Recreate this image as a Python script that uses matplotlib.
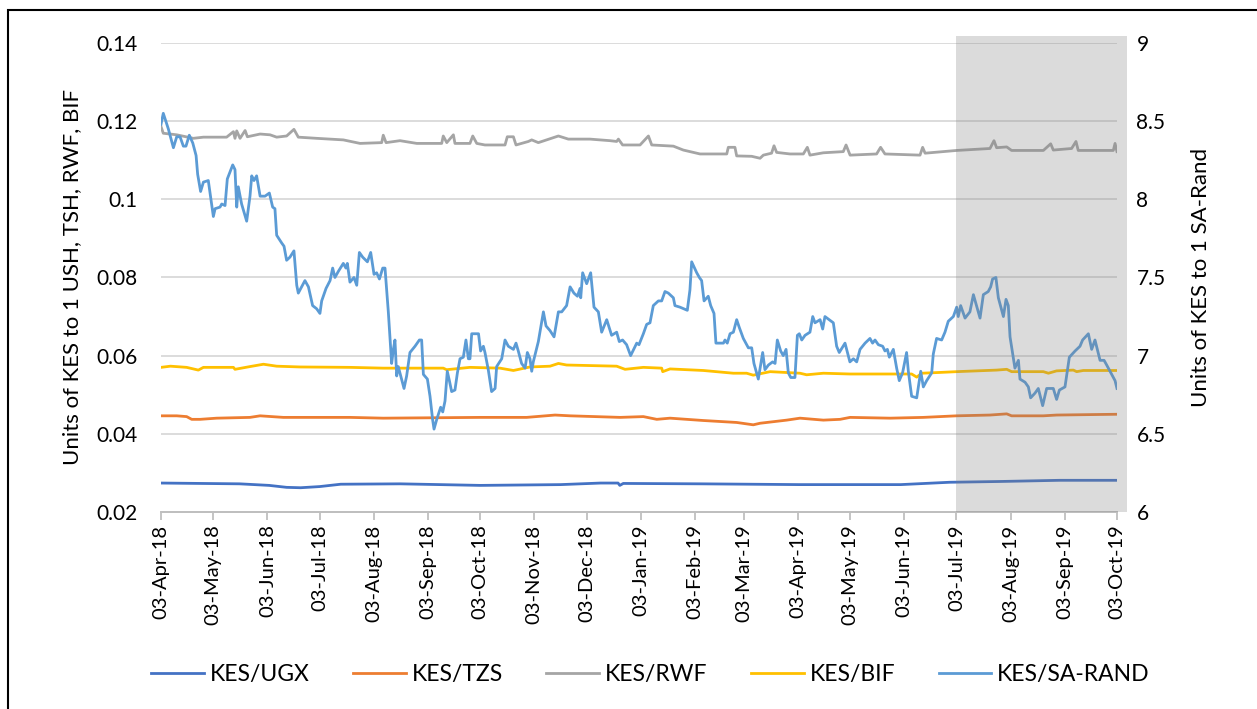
import pandas as pd
import numpy as np
import matplotlib
matplotlib.use("Agg")
import matplotlib.pyplot as plt
import matplotlib.dates as mdates
from matplotlib.patches import Rectangle

plt.rcParams['font.family'] = ['Lato', 'DejaVu Sans']

start = pd.Timestamp("2018-04-03")

# KES/SA-RAND (right axis): (days since 03-Apr-18, value)
rand_pts = [
    (0, 8.48), (1.3, 8.55), (4.2, 8.45), (7.1, 8.33), (9.0, 8.40), (10.9, 8.40), (12.8, 8.34),
    (14.3, 8.34), (16.2, 8.41), (18.2, 8.36), (20.1, 8.28), (21.0, 8.16), (22.7, 8.05),
    (24.3, 8.11), (27.1, 8.12), (30.0, 7.89), (31.0, 7.94), (33.8, 7.95), (34.8, 7.97),
    (36.7, 7.96), (38.0, 8.13), (41.1, 8.22), (42.4, 8.19), (43.4, 7.95), (44.3, 8.08),
    (46.2, 7.97), (49.1, 7.86), (51.0, 8.02), (52.0, 8.15), (53.3, 8.12), (54.8, 8.15),
    (56.8, 8.02), (59.6, 8.02), (62.1, 8.04), (64.0, 7.95), (65.3, 7.94), (66.3, 7.77),
    (69.2, 7.72), (70.5, 7.70), (72.0, 7.61), (73.9, 7.63), (76.2, 7.67), (77.8, 7.45),
    (78.7, 7.40), (80.6, 7.44), (82.5, 7.48), (84.5, 7.44), (86.9, 7.32), (89.2, 7.30),
    (91.1, 7.27), (92.1, 7.35), (94.6, 7.43), (96.9, 7.48), (98.4, 7.56), (99.7, 7.50),
    (101.7, 7.54), (104.5, 7.59), (106.0, 7.56), (106.8, 7.59), (108.3, 7.47), (110.6, 7.50),
    (112.2, 7.45), (113.7, 7.66), (115.6, 7.63), (118.3, 7.60), (120.2, 7.66), (122.1, 7.52),
    (123.6, 7.53), (125.2, 7.49), (127.1, 7.56), (128.4, 7.56), (130.3, 7.28), (132.2, 6.95),
    (133.2, 7.04), (134.1, 7.10), (135.1, 6.87), (136.0, 6.93), (137.4, 6.87), (139.3, 6.79),
    (140.8, 6.87), (142.7, 7.02), (145.6, 7.06), (148.1, 7.10), (149.4, 7.10), (150.4, 6.88),
    (152.7, 6.85), (154.2, 6.74), (155.7, 6.59), (156.5, 6.53), (158.0, 6.59), (160.3, 6.67),
    (161.5, 6.64), (162.8, 6.71), (164.1, 6.90), (165.3, 6.84), (166.6, 6.77), (168.5, 6.78),
    (169.9, 6.89), (171.4, 6.98), (173.3, 6.99), (174.8, 7.10), (176.2, 6.98), (177.1, 6.98),
    (178.1, 7.14), (182.0, 7.14), (183.2, 7.03), (184.8, 7.06), (185.7, 7.02), (187.6, 6.91),
    (189.5, 6.77), (191.5, 6.79), (192.4, 6.93), (195.3, 6.98), (197.2, 7.10), (199.1, 7.06),
    (202.0, 7.04), (203.5, 7.08), (204.8, 7.03), (206.7, 6.95), (208.7, 6.92), (210.0, 7.02),
    (211.5, 6.98), (212.5, 6.90), (213.4, 6.96), (216.3, 7.09), (219.2, 7.28), (220.7, 7.19),
    (223.0, 7.16), (225.3, 7.12), (227.8, 7.28), (229.7, 7.28), (232.5, 7.32), (234.5, 7.44),
    (236.7, 7.40), (238.7, 7.38), (240.2, 7.43), (240.6, 7.37), (241.7, 7.53), (244.0, 7.46),
    (246.3, 7.53), (248.2, 7.31), (250.7, 7.28), (252.6, 7.15), (255.5, 7.23), (258.3, 7.13),
    (261.2, 7.15), (262.7, 7.09), (264.6, 7.10), (266.9, 7.07), (269.2, 7.00), (272.7, 7.08),
    (274.0, 7.07), (276.5, 7.14), (278.4, 7.20), (280.3, 7.21), (282.2, 7.32), (285.1, 7.35),
    (287.0, 7.35), (288.9, 7.41), (290.8, 7.40), (293.7, 7.37), (294.6, 7.32), (297.5, 7.31),
    (301.7, 7.29), (303.2, 7.42), (304.2, 7.60), (307.1, 7.53), (308.6, 7.50), (309.9, 7.48),
    (311.3, 7.35), (313.7, 7.38), (315.1, 7.32), (317.0, 7.27), (318.1, 7.08), (322.4, 7.08),
    (323.3, 7.10), (324.6, 7.08), (326.2, 7.14), (328.1, 7.15), (330.0, 7.23), (331.5, 7.18),
    (333.8, 7.11), (336.7, 7.05), (338.6, 7.05), (339.9, 6.95), (342.4, 6.85), (344.9, 7.02),
    (346.2, 6.91), (348.2, 6.94), (350.6, 6.96), (352.0, 6.95), (353.3, 7.10), (355.2, 7.03),
    (356.7, 7.00), (358.3, 7.04), (359.6, 6.89), (361.0, 6.86), (363.4, 6.86), (364.8, 7.13),
    (365.9, 7.14), (367.3, 7.10), (369.2, 7.13), (372.0, 7.15), (373.6, 7.25), (374.9, 7.21),
    (377.8, 7.23), (379.3, 7.17), (380.6, 7.25), (385.4, 7.21), (387.3, 7.06), (388.8, 7.02),
    (392.1, 7.08), (394.9, 6.96), (396.9, 6.98), (398.8, 6.96), (400.7, 7.04), (403.6, 7.08),
    (406.4, 7.11), (407.9, 7.08), (409.3, 7.10), (411.2, 7.07), (413.7, 7.06), (415.0, 7.03),
    (416.4, 7.04), (417.5, 6.99), (419.8, 7.04), (421.7, 6.92), (423.2, 6.84), (425.1, 6.89),
    (427.4, 7.02), (428.4, 6.90), (430.3, 6.74), (433.2, 6.73), (435.5, 6.90), (437.0, 6.80),
    (438.9, 6.84), (441.8, 6.89), (442.7, 7.01), (444.6, 7.11), (447.5, 7.10), (449.4, 7.15),
    (451.3, 7.22), (454.2, 7.25), (456.1, 7.31), (457.0, 7.25), (458.4, 7.32), (460.9, 7.24),
    (463.7, 7.28), (465.7, 7.39), (469.5, 7.24), (471.4, 7.39), (474.2, 7.41), (475.6, 7.44),
    (476.7, 7.49), (478.6, 7.50), (480.0, 7.37), (482.9, 7.25), (484.4, 7.36), (485.7, 7.32),
    (486.7, 7.12), (489.5, 6.92), (491.5, 6.97), (492.4, 6.85), (495.3, 6.83), (497.2, 6.80),
    (498.5, 6.73), (501.0, 6.76), (502.9, 6.79), (505.4, 6.68), (507.7, 6.79), (511.5, 6.79),
    (513.4, 6.72), (515.0, 6.78), (518.2, 6.80), (520.7, 6.99), (524.0, 7.03), (526.8, 7.06),
    (528.3, 7.10), (531.6, 7.14), (533.5, 7.04), (535.4, 7.10), (538.3, 6.97), (540.6, 6.97),
    (542.1, 6.94), (544.0, 6.90), (546.9, 6.84), (548.0, 6.79),
]

# KES/RWF (left axis)
rwf_pts = [
    (0, 0.1186), (1.3, 0.1169), (9.0, 0.1165), (18.5, 0.1156), (24.3, 0.1159), (37.6, 0.1159),
    (41.5, 0.1173), (42.4, 0.1156), (43.4, 0.1175), (45.3, 0.1156), (48.2, 0.1176),
    (49.5, 0.1160), (56.8, 0.1167), (62.5, 0.1165), (66.3, 0.1159), (72.0, 0.1162),
    (76.2, 0.1179), (78.7, 0.1159), (89.2, 0.1156), (104.5, 0.1152), (114.1, 0.1143),
    (126.5, 0.1145), (127.4, 0.1164), (129.0, 0.1145), (137.0, 0.1150), (146.6, 0.1143),
    (160.9, 0.1143), (161.8, 0.1162), (163.8, 0.1145), (167.6, 0.1165), (168.5, 0.1143),
    (177.1, 0.1143), (178.7, 0.1162), (181.0, 0.1143), (185.7, 0.1139), (197.2, 0.1139),
    (198.5, 0.1160), (202.0, 0.1160), (203.5, 0.1139), (210.6, 0.1148), (212.5, 0.1152),
    (216.3, 0.1145), (227.8, 0.1162), (233.5, 0.1154), (245.9, 0.1154), (257.4, 0.1150),
    (261.2, 0.1148), (262.2, 0.1154), (264.6, 0.1139), (274.6, 0.1139), (279.4, 0.1162),
    (281.3, 0.1139), (293.7, 0.1136), (299.4, 0.1126), (309.0, 0.1116), (324.3, 0.1116),
    (325.2, 0.1133), (329.0, 0.1133), (330.0, 0.1111), (338.6, 0.1110), (343.4, 0.1105),
    (345.3, 0.1113), (350.0, 0.1118), (351.4, 0.1137), (352.9, 0.1120), (360.6, 0.1116),
    (368.2, 0.1116), (370.5, 0.1133), (372.0, 0.1113), (379.7, 0.1119), (391.1, 0.1122),
    (392.7, 0.1139), (395.0, 0.1113), (410.2, 0.1116), (412.5, 0.1133), (415.0, 0.1116),
    (435.1, 0.1113), (436.6, 0.1133), (438.0, 0.1118), (456.1, 0.1125), (475.2, 0.1130),
    (477.5, 0.1150), (479.0, 0.1132), (484.8, 0.1134), (487.6, 0.1125), (505.8, 0.1125),
    (510.0, 0.1142), (511.5, 0.1126), (522.0, 0.1130), (524.5, 0.1148), (525.8, 0.1125),
    (545.9, 0.1125), (546.9, 0.1143), (548.0, 0.1122),
]

# KES/BIF (left axis)
bif_pts = [
    (0, 0.0570), (5.4, 0.0573), (14.7, 0.0570), (21.4, 0.0563), (24.3, 0.0570), (41.5, 0.0570),
    (42.4, 0.0565), (51.0, 0.0572), (58.7, 0.0578), (66.3, 0.0573), (79.7, 0.0571),
    (108.3, 0.0570), (127.4, 0.0568), (161.8, 0.0568), (163.7, 0.0564), (177.1, 0.0570),
    (194.3, 0.0568), (202.0, 0.0562), (211.5, 0.0571), (223.0, 0.0573), (227.8, 0.0580),
    (232.5, 0.0576), (261.2, 0.0573), (266.0, 0.0565), (276.5, 0.0570), (287.0, 0.0568),
    (287.6, 0.0559), (291.8, 0.0566), (310.9, 0.0562), (328.1, 0.0555), (335.7, 0.0555),
    (339.5, 0.0550), (349.2, 0.0559), (366.3, 0.0555), (370.1, 0.0551), (379.7, 0.0555),
    (395.0, 0.0553), (418.0, 0.0553), (430.3, 0.0553), (433.2, 0.0545), (436.1, 0.0555),
    (446.5, 0.0557), (456.1, 0.0559), (479.0, 0.0563), (484.8, 0.0565), (487.6, 0.0559),
    (505.8, 0.0559), (508.7, 0.0555), (513.4, 0.0561), (523.0, 0.0563), (524.9, 0.0559),
    (528.7, 0.0562), (548.0, 0.0562),
]

# KES/TZS (left axis)
tzs_pts = [
    (0, 0.0446), (9.0, 0.0446), (14.7, 0.0444), (17.6, 0.0437), (22.4, 0.0437), (31.9, 0.0440),
    (51.0, 0.0442), (56.8, 0.0446), (70.1, 0.0442), (108.3, 0.0442), (127.4, 0.0440),
    (182.9, 0.0442), (209.6, 0.0442), (225.9, 0.0448), (234.5, 0.0446), (263.2, 0.0442),
    (276.5, 0.0444), (284.2, 0.0437), (291.8, 0.0440), (310.9, 0.0434), (330.0, 0.0429),
    (339.5, 0.0423), (343.4, 0.0427), (358.7, 0.0435), (366.3, 0.0440), (379.7, 0.0435),
    (389.3, 0.0437), (395.0, 0.0442), (418.0, 0.0440), (437.0, 0.0442), (456.1, 0.0446),
    (475.2, 0.0448), (484.8, 0.0451), (487.6, 0.0446), (505.8, 0.0446), (513.4, 0.0448),
    (548.0, 0.0450),
]

# KES/UGX (left axis)
ugx_pts = [
    (0, 0.0274), (45, 0.0272), (62, 0.0268), (72, 0.0263), (80, 0.0262), (91, 0.0265),
    (103, 0.0271), (137, 0.0272), (183, 0.0268), (229, 0.0270), (252, 0.0274), (262, 0.0274),
    (263, 0.0268), (265, 0.0273), (309, 0.0272), (366, 0.0270), (424, 0.0270), (452, 0.0276),
    (481, 0.0278), (515, 0.0281), (548, 0.0281),
]


def split(pts):
    d = np.array([p[0] for p in pts])
    v = np.array([p[1] for p in pts])
    return start + pd.to_timedelta(d, unit="D"), v


fig = plt.figure(figsize=(12.57, 7.09), dpi=100)
ax = fig.add_axes([0.1281, 0.2779, 0.7605, 0.6615])
ax2 = ax.twinx()

lw = 2.0
l1, = ax.plot(*split(ugx_pts), color="#4472C4", lw=lw, label="KES/UGX")
l2, = ax.plot(*split(tzs_pts), color="#ED7D31", lw=lw, label="KES/TZS")
l3, = ax.plot(*split(rwf_pts), color="#A5A5A5", lw=lw, label="KES/RWF")
l4, = ax.plot(*split(bif_pts), color="#FFC000", lw=lw, label="KES/BIF")
l5, = ax2.plot(*split(rand_pts), color="#5B9BD5", lw=lw, label="KES/SA-RAND")

ax.set_xlim(start, pd.Timestamp("2019-10-03"))
ax.set_ylim(0.02, 0.14)
ax.set_yticks(np.arange(0.02, 0.141, 0.02))
ax.set_yticklabels(["0.02", "0.04", "0.06", "0.08", "0.1", "0.12", "0.14"])
ax2.set_ylim(6, 9)
ax2.set_yticks(np.arange(6, 9.01, 0.5))
ax2.set_yticklabels(["6", "6.5", "7", "7.5", "8", "8.5", "9"])

ticks = pd.date_range("2018-04-01", "2019-10-01", freq="MS") + pd.Timedelta(days=2)
ax.set_xticks(ticks)
ax.xaxis.set_major_formatter(mdates.DateFormatter("%d-%b-%y"))
plt.setp(ax.get_xticklabels(), rotation=90)

ax.grid(axis="y", color="#D9D9D9", lw=1.3)
ax.set_axisbelow(True)
for a in (ax, ax2):
    for s in ("top", "left", "right"):
        a.spines[s].set_visible(False)
    a.spines["bottom"].set_color("#BFBFBF")
    a.spines["bottom"].set_linewidth(1.3)
ax.tick_params(axis="y", length=0, labelsize=15, pad=17)
ax2.tick_params(axis="y", length=0, labelsize=15, pad=14)
ax.tick_params(axis="x", length=6, color="#BFBFBF", width=1.3, labelsize=14.5, pad=3)

ax.set_ylabel("Units of KES to 1 USH, TSH, RWF, BIF", fontsize=16, labelpad=10)
ax2.set_ylabel("Units of KES to 1 SA-Rand", fontsize=16, labelpad=18)

# shaded period
sx0 = mdates.date2num(pd.Timestamp("2019-07-03"))
sx1 = mdates.date2num(pd.Timestamp("2019-10-09"))
shade = Rectangle((sx0, 6.0), sx1 - sx0, 3.045, facecolor="gray", alpha=0.28,
                  edgecolor="none", clip_on=False, zorder=5)
ax2.add_patch(shade)

fig.legend([l1, l2, l3, l4, l5], [h.get_label() for h in [l1, l2, l3, l4, l5]],
           loc="center", bbox_to_anchor=(0.5175, 0.048), ncol=5, frameon=False,
           fontsize=16.5, handlelength=2.3, columnspacing=1.9, handletextpad=0.25)

border = Rectangle((8 / 1257, -0.05), 1.05, 1 - 10 / 709 + 0.05, transform=fig.transFigure,
                   fill=False, edgecolor="black", lw=1.5, clip_on=False)
fig.patches.append(border)

fig.savefig("out.png", dpi=100)
